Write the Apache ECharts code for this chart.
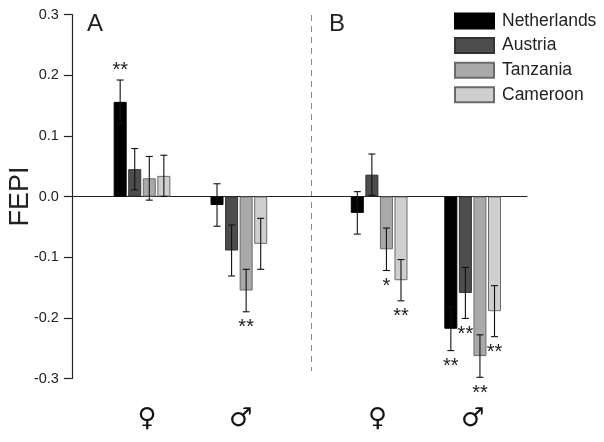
<!DOCTYPE html>
<html>
<head>
<meta charset="utf-8">
<style>html,body{margin:0;padding:0;background:#fff}#c{width:604px;height:442px}</style>
<script src="https://cdn.jsdelivr.net/npm/echarts@6/dist/echarts.min.js"></script>
</head>
<body>
<div id="c"></div>
<script>
// Tick labels and legend names
const sexLabels = ['♀', '♂', '♀', '♂'];
const countries = ['Netherlands', 'Austria', 'Tanzania', 'Cameroon'];
const yTicks = { min: -0.3, max: 0.3, step: 0.1 };

// Values for the groups: A female, A male, B female, B male
const netherlands = [0.156, -0.014, -0.027, -0.218];
const austria     = [0.045, -0.089, 0.036, -0.159];
const tanzania    = [0.030, -0.155, -0.087, -0.263];
const cameroon    = [0.034, -0.078, -0.138, -0.189];

const netherlandsErr = [0.036, 0.035, 0.035, 0.036];
const austriaErr     = [0.034, 0.042, 0.034, 0.042];
const tanzaniaErr    = [0.036, 0.035, 0.035, 0.035];
const cameroonErr    = [0.034, 0.042, 0.034, 0.042];

const netherlandsSig = ['**', '', '', '**'];
const austriaSig     = ['', '', '', '**'];
const tanzaniaSig    = ['', '**', '*', '**'];
const cameroonSig    = ['', '', '**', '**'];

const values = [netherlands, austria, tanzania, cameroon];
const errors = [netherlandsErr, austriaErr, tanzaniaErr, cameroonErr];
const sigs = [netherlandsSig, austriaSig, tanzaniaSig, cameroonSig];

// Layout: a fine category band, so that the uneven group spacing can be kept
const SLOT_COUNT = 272;
const groupSlots = [41, 99, 183, 239];
const labelSlots = [44, 100, 182, 239];
const categories = Array.from({ length: SLOT_COUNT }, () => '');
labelSlots.forEach((s, j) => { categories[s] = sexLabels[j]; });

const fills = ['#000000', '#4d4d4d', '#a9a9a9', '#cfcfcf'];
const borders = ['#000000', '#333333', '#6b6b6b', '#6b6b6b'];
const FONT = '"Liberation Sans", Arial, sans-serif';
const INK = '#222222';
const STEP = 14.56;

const chart = echarts.init(document.getElementById('c'), null, { renderer: 'canvas' });

const barSeries = countries.map((name, i) => {
  const data = categories.map(() => null);
  groupSlots.forEach((s, j) => { data[s] = values[i][j]; });
  return {
    name, type: 'bar', data,
    barWidth: 13, barGap: '12%',
    itemStyle: { color: fills[i], borderColor: borders[i], borderWidth: 1 },
    silent: true, z: 2
  };
});

const errSeries = countries.map((name, i) => ({
  name: name + ' error',
  type: 'custom',
  silent: true, z: 4, clip: false,
  encode: { x: 0, y: 1 },
  data: groupSlots.map((s, j) => [s, values[i][j], errors[i][j], j]),
  renderItem: (params, api) => {
    const slot = api.value(0), v = api.value(1), e = api.value(2), j = api.value(3);
    const dx = (i - 1.5) * STEP;
    const hi = api.coord([slot, v + e]), lo = api.coord([slot, v - e]);
    const x = hi[0] + dx;
    const style = { stroke: '#111', lineWidth: 1.1, fill: null };
    const kids = [
      { type: 'line', shape: { x1: x, y1: hi[1], x2: x, y2: lo[1] }, style },
      { type: 'line', shape: { x1: x - 3.5, y1: hi[1], x2: x + 3.5, y2: hi[1] }, style },
      { type: 'line', shape: { x1: x - 3.5, y1: lo[1], x2: x + 3.5, y2: lo[1] }, style }
    ];
    const sig = sigs[i][j];
    if (sig) {
      const up = v > 0;
      kids.push({
        type: 'text',
        style: {
          text: sig, x, y: (up ? hi[1] - 12 : lo[1] + 14) + 2,
          fill: INK, font: '20px ' + FONT, align: 'center', verticalAlign: 'middle'
        }
      });
    }
    return { type: 'group', children: kids };
  }
}));

chart.setOption({
  animation: false,
  backgroundColor: '#ffffff',
  grid: { left: 72.7, top: 14.5, width: 454.24, height: 364, containLabel: false, outerBoundsMode: 'none' },
  legend: {
    data: countries.map(name => ({ name, icon: 'rect' })),
    orient: 'vertical', left: 454, top: 12, padding: 0,
    itemWidth: 39, itemHeight: 15, itemGap: 6.6,
    selectedMode: false,
    textStyle: { fontFamily: FONT, fontSize: 17.5, color: INK, padding: [0, 0, 0, 3] }
  },
  xAxis: {
    type: 'category', data: categories,
    axisLine: { show: true, onZero: true, lineStyle: { color: '#222', width: 1.2 } },
    axisTick: { show: false }, splitLine: { show: false },
    axisLabel: {
      show: true, interval: 0, margin: 28, color: '#111',
      fontFamily: '"DejaVu Sans"', fontSize: 26, hideOverlap: false
    }
  },
  yAxis: {
    type: 'value', min: yTicks.min, max: yTicks.max, interval: yTicks.step,
    offset: 0.8,
    name: 'FEPI', nameLocation: 'middle', nameGap: 38, nameRotate: 90, nameMoveOverlap: false,
    nameTextStyle: { fontFamily: FONT, fontSize: 27, color: INK },
    axisLine: { show: true, lineStyle: { color: '#222', width: 1.2 } },
    axisTick: { show: true, length: 8, lineStyle: { color: '#222', width: 1.2 } },
    splitLine: { show: false },
    axisLabel: {
      margin: 13, color: INK, fontFamily: FONT, fontSize: 14.5,
      formatter: v => (Math.abs(v) < 1e-9 ? 0 : v).toFixed(1)
    }
  },
  graphic: [
    { type: 'text', left: 87, top: 12, style: { text: 'A', font: '24px ' + FONT, fill: INK } },
    { type: 'text', left: 329, top: 12, style: { text: 'B', font: '24px ' + FONT, fill: INK } },
    { type: 'line', silent: true, shape: { x1: 311.5, y1: 15, x2: 311.5, y2: 371 },
      style: { stroke: '#888', lineWidth: 1, lineDash: [6, 5] } }
  ],
  series: barSeries.concat(errSeries)
});
</script>
</body>
</html>
